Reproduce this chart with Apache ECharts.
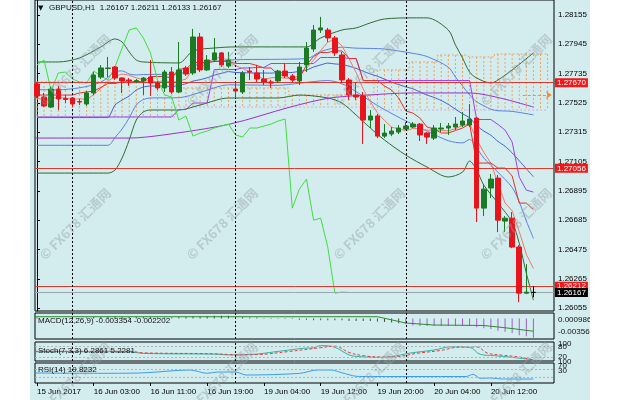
<!DOCTYPE html>
<html><head><meta charset="utf-8">
<script src="https://cdn.jsdelivr.net/npm/echarts@6/dist/echarts.min.js"></script>
<style>html,body{margin:0;padding:0;background:#fff}#c{width:624px;height:400px}</style>
</head><body><div id="c"></div><script>
// ---------------- data ----------------
const timeLabels = ['15 Jun 2017','16 Jun 03:00','16 Jun 11:00','16 Jun 19:00','19 Jun 04:00','19 Jun 12:00','19 Jun 20:00','20 Jun 04:00','20 Jun 12:00'];
const timeLabelBars = [0,8,16,24,32,40,48,56,64];
const daySeparatorBars = [5,28,52];
const priceTicks = [1.28155,1.27945,1.27735,1.27525,1.27315,1.27105,1.26895,1.26685,1.26475,1.26265,1.26055];

const opens = [1.27660,1.27567,1.27495,1.27624,1.27556,1.27560,1.27535,1.27517,1.27596,1.27710,
1.27771,1.27782,1.27703,1.27689,1.27678,1.27682,1.27710,1.27667,1.27632,1.27746,
1.27603,1.27775,1.27739,1.27997,1.27761,1.27832,1.27883,1.27789,1.27624,1.27603,
1.27753,1.27739,1.27696,1.27675,1.27682,1.27753,1.27718,1.27682,1.27797,1.27911,
1.28047,1.28047,1.27990,1.27868,1.27689,1.27582,1.27574,1.27402,1.27431,1.27287,
1.27302,1.27316,1.27338,1.27352,1.27373,1.27309,1.27273,1.27338,1.27345,1.27352,
1.27366,1.27366,1.27416,1.26771,1.26915,1.26986,1.26678,1.26699,1.26492,1.26162,1.26167];
const highs = [1.27675,1.27596,1.27639,1.27646,1.27581,1.27567,1.27553,1.27610,1.27746,1.27796,
1.27854,1.27789,1.27710,1.27703,1.27696,1.27710,1.27832,1.27682,1.27761,1.27782,
1.27961,1.27789,1.28055,1.28026,1.27868,1.27990,1.27890,1.27890,1.27675,1.27753,
1.27782,1.27797,1.27761,1.27689,1.27761,1.27811,1.27732,1.27818,1.27961,1.28083,
1.28141,1.28062,1.28004,1.27890,1.27703,1.27675,1.27603,1.27474,1.27445,1.27373,
1.27352,1.27366,1.27388,1.27388,1.27381,1.27316,1.27366,1.27381,1.27381,1.27424,
1.27460,1.27517,1.27424,1.26936,1.27015,1.27008,1.26714,1.26743,1.26506,1.26370,1.26211];
const lows = [1.27560,1.27495,1.27488,1.27474,1.27524,1.27495,1.27510,1.27503,1.27582,1.27696,
1.27710,1.27689,1.27596,1.27646,1.27667,1.27582,1.27574,1.27617,1.27603,1.27589,
1.27596,1.27718,1.27725,1.27746,1.27753,1.27818,1.27782,1.27775,1.27560,1.27589,
1.27689,1.27675,1.27653,1.27632,1.27667,1.27703,1.27675,1.27653,1.27746,1.27890,
1.28026,1.27961,1.27861,1.27667,1.27546,1.27546,1.27230,1.27345,1.27273,1.27273,
1.27287,1.27302,1.27331,1.27345,1.27252,1.27230,1.27259,1.27316,1.27295,1.27331,
1.27352,1.27352,1.26671,1.26714,1.26843,1.26599,1.26599,1.26484,1.26097,1.26155,1.26133];
const closes = [1.27574,1.27503,1.27624,1.27553,1.27549,1.27517,1.27531,1.27596,1.27725,1.27775,
1.27775,1.27703,1.27682,1.27682,1.27685,1.27703,1.27667,1.27632,1.27746,1.27603,
1.27761,1.27732,1.27997,1.27761,1.27832,1.27883,1.27797,1.27832,1.27610,1.27739,
1.27746,1.27696,1.27675,1.27667,1.27753,1.27718,1.27689,1.27782,1.27918,1.28047,
1.28062,1.27990,1.27883,1.27689,1.27582,1.27567,1.27402,1.27431,1.27287,1.27309,
1.27323,1.27345,1.27359,1.27373,1.27295,1.27280,1.27345,1.27345,1.27359,1.27373,
1.27395,1.27409,1.26771,1.26907,1.26979,1.26685,1.26699,1.26492,1.26162,1.26169,1.26167];

// fast moving average (salmon), one value per bar
const fastMA = [1.27560,1.27545,1.27560,1.27560,1.27561,1.27549,1.27555,1.27549,1.27584,1.27629,
1.27680,1.27715,1.27732,1.27723,1.27705,1.27691,1.27684,1.27674,1.27687,1.27670,
1.27682,1.27695,1.27768,1.27771,1.27817,1.27841,1.27854,1.27821,1.27791,1.27772,
1.27745,1.27725,1.27693,1.27705,1.27708,1.27702,1.27700,1.27722,1.27772,1.27831,
1.27900,1.27960,1.27980,1.27934,1.27841,1.27742,1.27624,1.27534,1.27454,1.27399,
1.27351,1.27339,1.27325,1.27342,1.27339,1.27330,1.27330,1.27328,1.27325,1.27340,
1.27363,1.27376,1.27262,1.27171,1.27092,1.26950,1.26808,1.26752,1.26603,1.26441,1.26338];
// Bollinger middle line (blue), one value per bar
const bbMid = [1.27420,1.27420,1.27420,1.27420,1.27420,1.27420,1.27420,1.27420,1.27420,1.27420,
1.27420,1.27510,1.27545,1.27574,1.27617,1.27639,1.27646,1.27646,1.27646,1.27641,
1.27651,1.27662,1.27681,1.27691,1.27705,1.27723,1.27737,1.27749,1.27743,1.27741,
1.27740,1.27739,1.27739,1.27738,1.27742,1.27742,1.27743,1.27751,1.27760,1.27782,
1.27797,1.27810,1.27804,1.27800,1.27788,1.27772,1.27752,1.27732,1.27716,1.27695,
1.27674,1.27656,1.27640,1.27626,1.27603,1.27581,1.27564,1.27542,1.27514,1.27480,
1.27447,1.27418,1.27362,1.27323,1.27293,1.27249,1.27214,1.27167,1.27110,1.27053,1.26996];
// Ichimoku conversion (red) and base (violet) lines, one value per bar
const tenkan = [1.27581,1.27581,1.27581,1.27581,1.27581,1.27581,1.27596,1.27603,
1.27610,1.27635,1.27664,1.27664,1.27675,1.27675,1.27678,1.27678,
1.27714,1.27714,1.27714,1.27703,1.27768,1.27768,1.27814,1.27814,1.27814,
1.27822,1.27822,1.27822,1.27807,1.27807,1.27807,1.27793,1.27775,1.27775,
1.27725,1.27725,1.27685,1.27703,1.27796,1.27857,1.27886,1.27886,1.27897,1.27897,
1.27843,1.27843,1.27685,1.27685,1.27685,1.27646,1.27617,1.27560,1.27467,1.27452,
1.27416,1.27352,1.27338,1.27309,1.27309,1.27327,1.27345,1.27373,
1.27094,1.27094,1.27094,1.27058,1.27058,1.27001,1.26807,1.26807,1.26760];
const kijun = [1.27424,1.27424,1.27424,1.27424,1.27424,1.27424,1.27424,1.27424,1.27424,1.27424,
1.27424,1.27424,1.27424,1.27424,1.27424,1.27424,1.27424,1.27424,1.27424,1.27424,
1.27477,1.27477,1.27524,1.27524,1.27524,1.27764,1.27764,1.27764,1.27764,1.27775,
1.27775,1.27779,1.27779,1.27807,1.27807,1.27807,1.27807,1.27807,1.27807,1.27807,
1.27850,1.27850,1.27850,1.27850,1.27843,1.27843,1.27685,1.27685,1.27685,1.27685,
1.27685,1.27685,1.27685,1.27685,1.27685,1.27685,1.27685,1.27685,1.27685,1.27685,
1.27685,1.27685,1.27406,1.27406,1.27406,1.27370,1.27330,1.27244,1.26993,1.26900,1.26886];

// band lines: [bar, value]
const bb2Upper = [[0,1.27818],[3,1.27818],[6,1.27847],[9,1.27926],[11,1.27983],[12,1.27961],[13,1.27890],[14,1.27832],[15,1.27818],[20,1.27811],[22,1.27897],[25,1.27918],[28,1.27926],[38,1.27926],[40,1.27990],[43,1.28047],[45,1.28062],[47,1.28098],[49,1.28126],[53,1.28134],[55,1.28134],[58,1.28047],[59,1.27940],[60,1.27847],[61,1.27746],[62,1.27703],[64,1.27667],[65,1.27689],[67,1.27761],[70,1.27883]];
const bb2Lower = [[0,1.27022],[10,1.27022],[11,1.27044],[12,1.27130],[13,1.27259],[14,1.27402],[15,1.27460],[16,1.27474],[20,1.27474],[23,1.27510],[27,1.27560],[34,1.27560],[37,1.27581],[41,1.27560],[43,1.27524],[45,1.27438],[47,1.27345],[49,1.27259],[52,1.27151],[55,1.27065],[58,1.26994],[60,1.27029],[61,1.27108],[62,1.27044],[63,1.26936],[65,1.26807],[67,1.26671],[68,1.26520],[69,1.26305],[70,1.26112]];
const bb1Upper = [[0,1.27619],[3,1.27619],[6,1.27633],[9,1.27673],[11,1.27746],[12,1.27754],[13,1.27732],[14,1.27725],[15,1.27728],[20,1.27731],[22,1.27789],[25,1.27821],[28,1.27834],[38,1.27842],[40,1.27893],[43,1.27924],[45,1.27917],[47,1.27915],[49,1.27911],[53,1.27880],[55,1.27857],[58,1.27781],[59,1.27710],[60,1.27647],[61,1.27582],[62,1.27533],[64,1.27480],[65,1.27469],[67,1.27464],[70,1.27439]];
const bb1Lower = [[0,1.27221],[10,1.27221],[11,1.27277],[12,1.27338],[13,1.27417],[14,1.27510],[15,1.27549],[16,1.27560],[20,1.27562],[23,1.27600],[27,1.27654],[34,1.27651],[37,1.27666],[41,1.27685],[43,1.27662],[45,1.27605],[47,1.27538],[49,1.27477],[52,1.27396],[55,1.27323],[58,1.27254],[60,1.27238],[61,1.27263],[62,1.27203],[63,1.27130],[65,1.27028],[67,1.26919],[68,1.26815],[69,1.26679],[70,1.26554]];
const slowMA = [[-0.3,1.27273],[13,1.27273],[17.8,1.27295],[27.2,1.27373],[35.7,1.27495],[41.3,1.27560],[47,1.27582],[52.6,1.27596],[61.1,1.27596],[65.3,1.27560],[70,1.27495]];
// Ichimoku cloud (Senkou spans), one value per bar 0..72
const spanTop = [1.27675,1.27675,1.27675,1.27675,1.27675,1.27675,1.27675,1.27675,1.27675,1.27675,
1.27675,1.27675,1.27675,1.27675,1.27675,1.27675,1.27675,1.27675,1.27675,1.27675,
1.27632,1.27632,1.27632,1.27632,1.27632,1.27632,1.27632,1.27632,1.27632,1.27632,
1.27632,1.27632,1.27632,1.27632,1.27632,1.27632,1.27582,1.27582,1.27582,1.27582,
1.27582,1.27582,1.27582,1.27582,1.27582,1.27582,1.27582,1.27582,1.27761,1.27761,
1.27761,1.27761,1.27761,1.27818,1.27818,1.27818,1.27818,1.27868,1.27868,1.27868,
1.27868,1.27854,1.27854,1.27854,1.27854,1.27875,1.27875,1.27875,1.27875,1.27875,1.27875,1.27875,1.27875];
const spanBottom = [1.27424,1.27424,1.27424,1.27424,1.27424,1.27424,1.27424,1.27424,1.27424,1.27424,
1.27424,1.27424,1.27424,1.27424,1.27424,1.27424,1.27424,1.27424,1.27424,1.27424,
1.27495,1.27495,1.27495,1.27495,1.27495,1.27495,1.27495,1.27495,1.27495,1.27495,
1.27495,1.27495,1.27495,1.27495,1.27495,1.27495,1.27495,1.27495,1.27495,1.27495,
1.27495,1.27495,1.27495,1.27495,1.27495,1.27495,1.27495,1.27495,1.27474,1.27474,
1.27474,1.27474,1.27474,1.27474,1.27474,1.27474,1.27474,1.27474,1.27474,1.27474,
1.27474,1.27474,1.27474,1.27474,1.27474,1.27474,1.27474,1.27474,1.27474,1.27474,1.27474,1.27474,1.27474];
const levelLines = [1.27670,1.27056,1.26212];
const bidPrice = 1.26167;
const arrowLevel = 1.27582;
const arrowBars = [68.5,72.6];

const macdHist = [0.0002,0.0001,0.0001,0.0001,0.0001,0.0001,0.0001,0.0002,0.0003,0.0003,
0.0004,0.0004,0.0003,0.0003,0.0003,0.0003,0.0003,0.0002,0.0002,0.0002,
0.0003,0.0003,0.0004,0.0004,0.0004,0.0005,0.0005,0.0005,0.0003,0.0003,
0.0002,0.0002,0.0001,0.0001,0.0001,0.0001,0.0001,-0.0002,-0.0002,-0.0003,
-0.0003,-0.0003,-0.0003,-0.0003,-0.0004,-0.0004,-0.0004,-0.0004,-0.0005,-0.0006,
-0.0007,-0.0008,-0.0010,-0.0012,-0.0013,-0.0013,-0.0013,-0.0013,-0.0013,-0.0013,
-0.0013,-0.0013,-0.0015,-0.0017,-0.0018,-0.0021,-0.0023,-0.0025,-0.0029,-0.0031,-0.003354];
const macdSignal = [[-0.3,0.00033],[48,0.00033],[52,-0.00077],[56,-0.00112],[63,-0.00120],[65,-0.00146],[67.5,-0.00181],[70,-0.002202]];
const stochMain = [[-0.3,49],[13,49],[15,40],[25,36],[27.5,32],[30,34],[34.5,53],[37.5,67],[39,70],[40,81],[42,72],[44,32],[45.5,23],[48,19],[50,23],[52.5,41],[56,58],[58.5,75],[61,72],[62.5,35],[64.5,28],[67,19],[70,6.2861]];
const stochSignal = [[-0.3,51],[13,51],[15,43],[25,38],[28,33],[31,34],[35.5,50],[40,70],[42,78],[44,45],[46,28],[48.5,21],[51,24],[53.5,40],[57,56],[59.5,73],[62,74],[63.5,42],[65.5,31],[68,21],[70,5.2281]];
const rsiLine = [[-0.3,50],[8.5,48.5],[14.5,50],[21.6,65],[24,48.5],[25.5,55],[28,55],[29.5,40],[37,48],[39.5,65],[41.5,65],[42.5,56.5],[44.5,36.5],[45.5,32.5],[60.5,32.5],[61.5,43.5],[62.5,23.5],[64,25],[65.5,20],[70,19.8232]];

// ---------------- chart ----------------
const FONT = '"Liberation Sans", Arial, sans-serif';
const XMIN = -0.28, XMAX = 72.9;
const BG = '#d3ecee';
const grids = [
  {left:35, top:0, width:519, height:311},
  {left:35, top:313, width:519, height:26},
  {left:35, top:342, width:519, height:19},
  {left:35, top:363, width:519, height:20}
];
const xAxes = grids.map((g,i)=>({
  type:'value', gridIndex:i, min:XMIN, max:XMAX,
  axisLine:{show:false}, splitLine:{show:false},
  axisTick:{show:i===3, length:3, lineStyle:{color:'#000'}, customValues:timeLabelBars},
  axisLabel:{show:i===3, customValues:timeLabelBars, align:'left', margin:5, fontSize:8, fontFamily:FONT, color:'#000',
    formatter:v=>{const k=timeLabelBars.indexOf(Math.round(v));return k>=0?timeLabels[k]:'';}}
}));
const yAxes = [
  {type:'value', gridIndex:0, position:'right', min:1.26034, max:1.28262, splitLine:{show:false},
   axisLine:{show:true, lineStyle:{color:'#000'}},
   axisTick:{show:true, length:3, customValues:priceTicks, lineStyle:{color:'#000'}},
   axisLabel:{show:true, customValues:priceTicks, margin:4, fontSize:8, fontFamily:FONT, color:'#000', formatter:v=>v.toFixed(5)}},
  {type:'value', gridIndex:1, position:'right', min:-0.00356, max:0.00098, show:false},
  {type:'value', gridIndex:2, position:'right', min:0, max:100, show:false},
  {type:'value', gridIndex:3, position:'right', min:0, max:100, show:false}
];

const candleData = opens.map((o,i)=>{
  const item = {value:[i,o,closes[i],lows[i],highs[i]]};
  if (i===opens.length-1) item.itemStyle = {color:'#000',color0:'#000',borderColor:'#000',borderColor0:'#000'};
  return item;
});
const chikou = closes.slice(26).map((c,k)=>[k,c]);
const perBar = arr => arr.map((v,i)=>[i,v]);

function sepData(){ return daySeparatorBars.map(b=>({xAxis:b, lineStyle:{color:'#000', type:[2,2], width:1}})); }
function line(name, data, color, xi, extra){
  return Object.assign({type:'line', name, data, xAxisIndex:xi, yAxisIndex:xi, symbol:'none', silent:true,
    lineStyle:{color, width:1}, animation:false}, extra||{});
}
function marks(data){ return {silent:true, symbol:'none', precision:6, label:{show:false}, data}; }

const levelMarkData = levelLines.map(v=>({yAxis:v, lineStyle:{color:'#e0392b', width:1, type:'solid'},
      label:{show:true, position:'end', distance:1, formatter:v.toFixed(5), backgroundColor:'#f01818', color:'#fff', fontSize:8, fontFamily:FONT, padding:[1,2,0,2]}}))
    .concat([{yAxis:bidPrice, lineStyle:{color:'#9aa7ad', width:1, type:'solid'},
      label:{show:true, position:'end', distance:1, formatter:bidPrice.toFixed(5), backgroundColor:'#000', color:'#fff', fontSize:8, fontFamily:FONT, padding:[1,2,0,2]}}]);
const arrowMark = [[{coord:[arrowBars[0],arrowLevel], symbol:'none'},{coord:[arrowBars[1],arrowLevel], symbol:'arrow', symbolSize:[6,6]}]];

const cloudData = spanTop.map((t,i)=>[i,t,spanBottom[i]]);

const series = [
  {type:'custom', name:'cloud', xAxisIndex:0, yAxisIndex:0, silent:true, data:cloudData, clip:true, z:1,
   renderItem:(params, api)=>{
     const x = api.value(0);
     const a = api.coord([x, api.value(1)]), b = api.coord([x, api.value(2)]);
     return {type:'line', shape:{x1:a[0],y1:a[1],x2:b[0],y2:b[1]}, style:{stroke:'#f0a35c', lineWidth:1, lineDash:[2,2]}};
   }},
  line('spanA', perBar(spanTop), '#f0a35c', 0, {lineStyle:{color:'#f0a35c',width:1,type:[2,2]}, step:'middle', z:2}),
  line('spanB', perBar(spanBottom), '#d8a8d8', 0, {lineStyle:{color:'#d8a8d8',width:1,type:[2,2]}, step:'middle', z:2}),
  line('bb2Upper', bb2Upper, '#2f6b35', 0, {smooth:0.3, z:3}),
  line('bb2Lower', bb2Lower, '#2f6b35', 0, {smooth:0.3, z:3}),
  line('bb1Upper', bb1Upper, '#5a82e6', 0, {smooth:0.3, z:3}),
  line('bb1Lower', bb1Lower, '#5a82e6', 0, {smooth:0.3, z:3}),
  line('bbMid', perBar(bbMid), '#3c5ed8', 0, {smooth:0.2, z:3}),
  line('slowMA', slowMA, '#9b30d0', 0, {smooth:0.3, z:3}),
  line('kijun', perBar(kijun), '#a040e8', 0, {z:3}),
  line('fastMA', perBar(fastMA), '#f07a6a', 0, {z:3}),
  line('tenkan', perBar(tenkan), '#e8302a', 0, {z:3}),
  line('chikou', chikou, '#3ee03e', 0, {z:3}),
  line('levels', [], '#000', 0, {z:4, markLine:Object.assign(marks(levelMarkData.concat(sepData())), {label:{show:true}})}),
  line('arrow', [], '#f0903c', 0, {z:4, markLine:{silent:true, precision:6, label:{show:false}, lineStyle:{color:'#f0903c', type:[3,2], width:1}, data:arrowMark}}),
  {type:'candlestick', name:'GBPUSD', xAxisIndex:0, yAxisIndex:0, data:candleData, barWidth:5, z:5, silent:true,
   itemStyle:{color:'#1d7a24', color0:'#e8141b', borderColor:'#1d7a24', borderColor0:'#e8141b', borderWidth:1}},
  // MACD
  {type:'bar', name:'macd', xAxisIndex:1, yAxisIndex:1, barWidth:1, silent:true,
   data: macdHist.map((v,i)=>({value:[i,v], itemStyle:{color: v < -0.0009 ? '#a35ad6' : '#4a4a4a'}})),
   markLine: marks(sepData())},
  line('signal', macdSignal, '#2e8b2e', 1),
  // Stoch
  line('stoch', stochMain, '#2fb3a3', 2, {smooth:0.4, markLine:marks([{yAxis:80},{yAxis:20}].map(d=>Object.assign(d,{lineStyle:{color:'#a8b8bc',type:[2,2],width:1}})).concat(sepData()))}),
  line('stochSig', stochSignal, '#e04040', 2, {smooth:0.4, lineStyle:{color:'#e04040', width:1, type:[3,2]}}),
  // RSI
  line('rsi', rsiLine, '#3d9be9', 3, {smooth:0.3, markLine:marks([{yAxis:70},{yAxis:30}].map(d=>Object.assign(d,{lineStyle:{color:'#a8b8bc',type:[2,2],width:1}})).concat(sepData()))})
];

// watermark + text graphics
const wmX = [75,222,369,516], wmY = [70,224,378];
const graphics = [];
wmY.forEach(y=>wmX.forEach(x=>graphics.push({type:'text', x, y, rotation:Math.PI/4, silent:true, z:50,
  style:{text:'© FX678 汇通网', font:'bold 13px "Noto Sans CJK SC", sans-serif', fill:'rgba(150,165,170,0.45)', align:'center', verticalAlign:'middle'}})));
const txt = (t,x,y,extra)=>Object.assign({type:'text', x, y, silent:true, z:60,
  style:Object.assign({text:t, font:'8px '+FONT, fill:'#111', verticalAlign:'middle'}, extra||{})});
graphics.push(txt('▼',38,8,{font:'7px "DejaVu Sans"'}));
graphics.push(txt('GBPUSD,H1  1.26167 1.26211 1.26133 1.26167',49,8));
graphics.push(txt('MACD(12,26,9) -0.003354 -0.002202',38,321));
graphics.push(txt('Stoch(7,3,3) 6.2861 5.2281',38,351));
graphics.push(txt('RSI(14) 19.8232',38,370));
graphics.push(txt('0.000986',558,320));
graphics.push(txt('-0.00356',558,332));
graphics.push(txt('100',558,344));
graphics.push(txt('80',558,347));
graphics.push(txt('20',558,357));
graphics.push(txt('100',558,362));
graphics.push(txt('70',558,366));
graphics.push(txt('30',558,371));
graphics.push({type:'rect', shape:{x:590,y:0,width:34,height:400}, style:{fill:'#fff'}, z:100, silent:true});
graphics.push({type:'rect', shape:{x:0,y:0,width:30,height:400}, style:{fill:'#fff'}, z:100, silent:true});

const chart = echarts.init(document.getElementById('c'), null, {renderer:'canvas'});
chart.setOption({
  animation:false,
  backgroundColor:BG,
  grid: grids.map(g=>Object.assign({show:true, borderColor:'#000', borderWidth:1, backgroundColor:'transparent'}, g)),
  xAxis:xAxes, yAxis:yAxes, series, graphic:graphics
});
</script></body></html>
